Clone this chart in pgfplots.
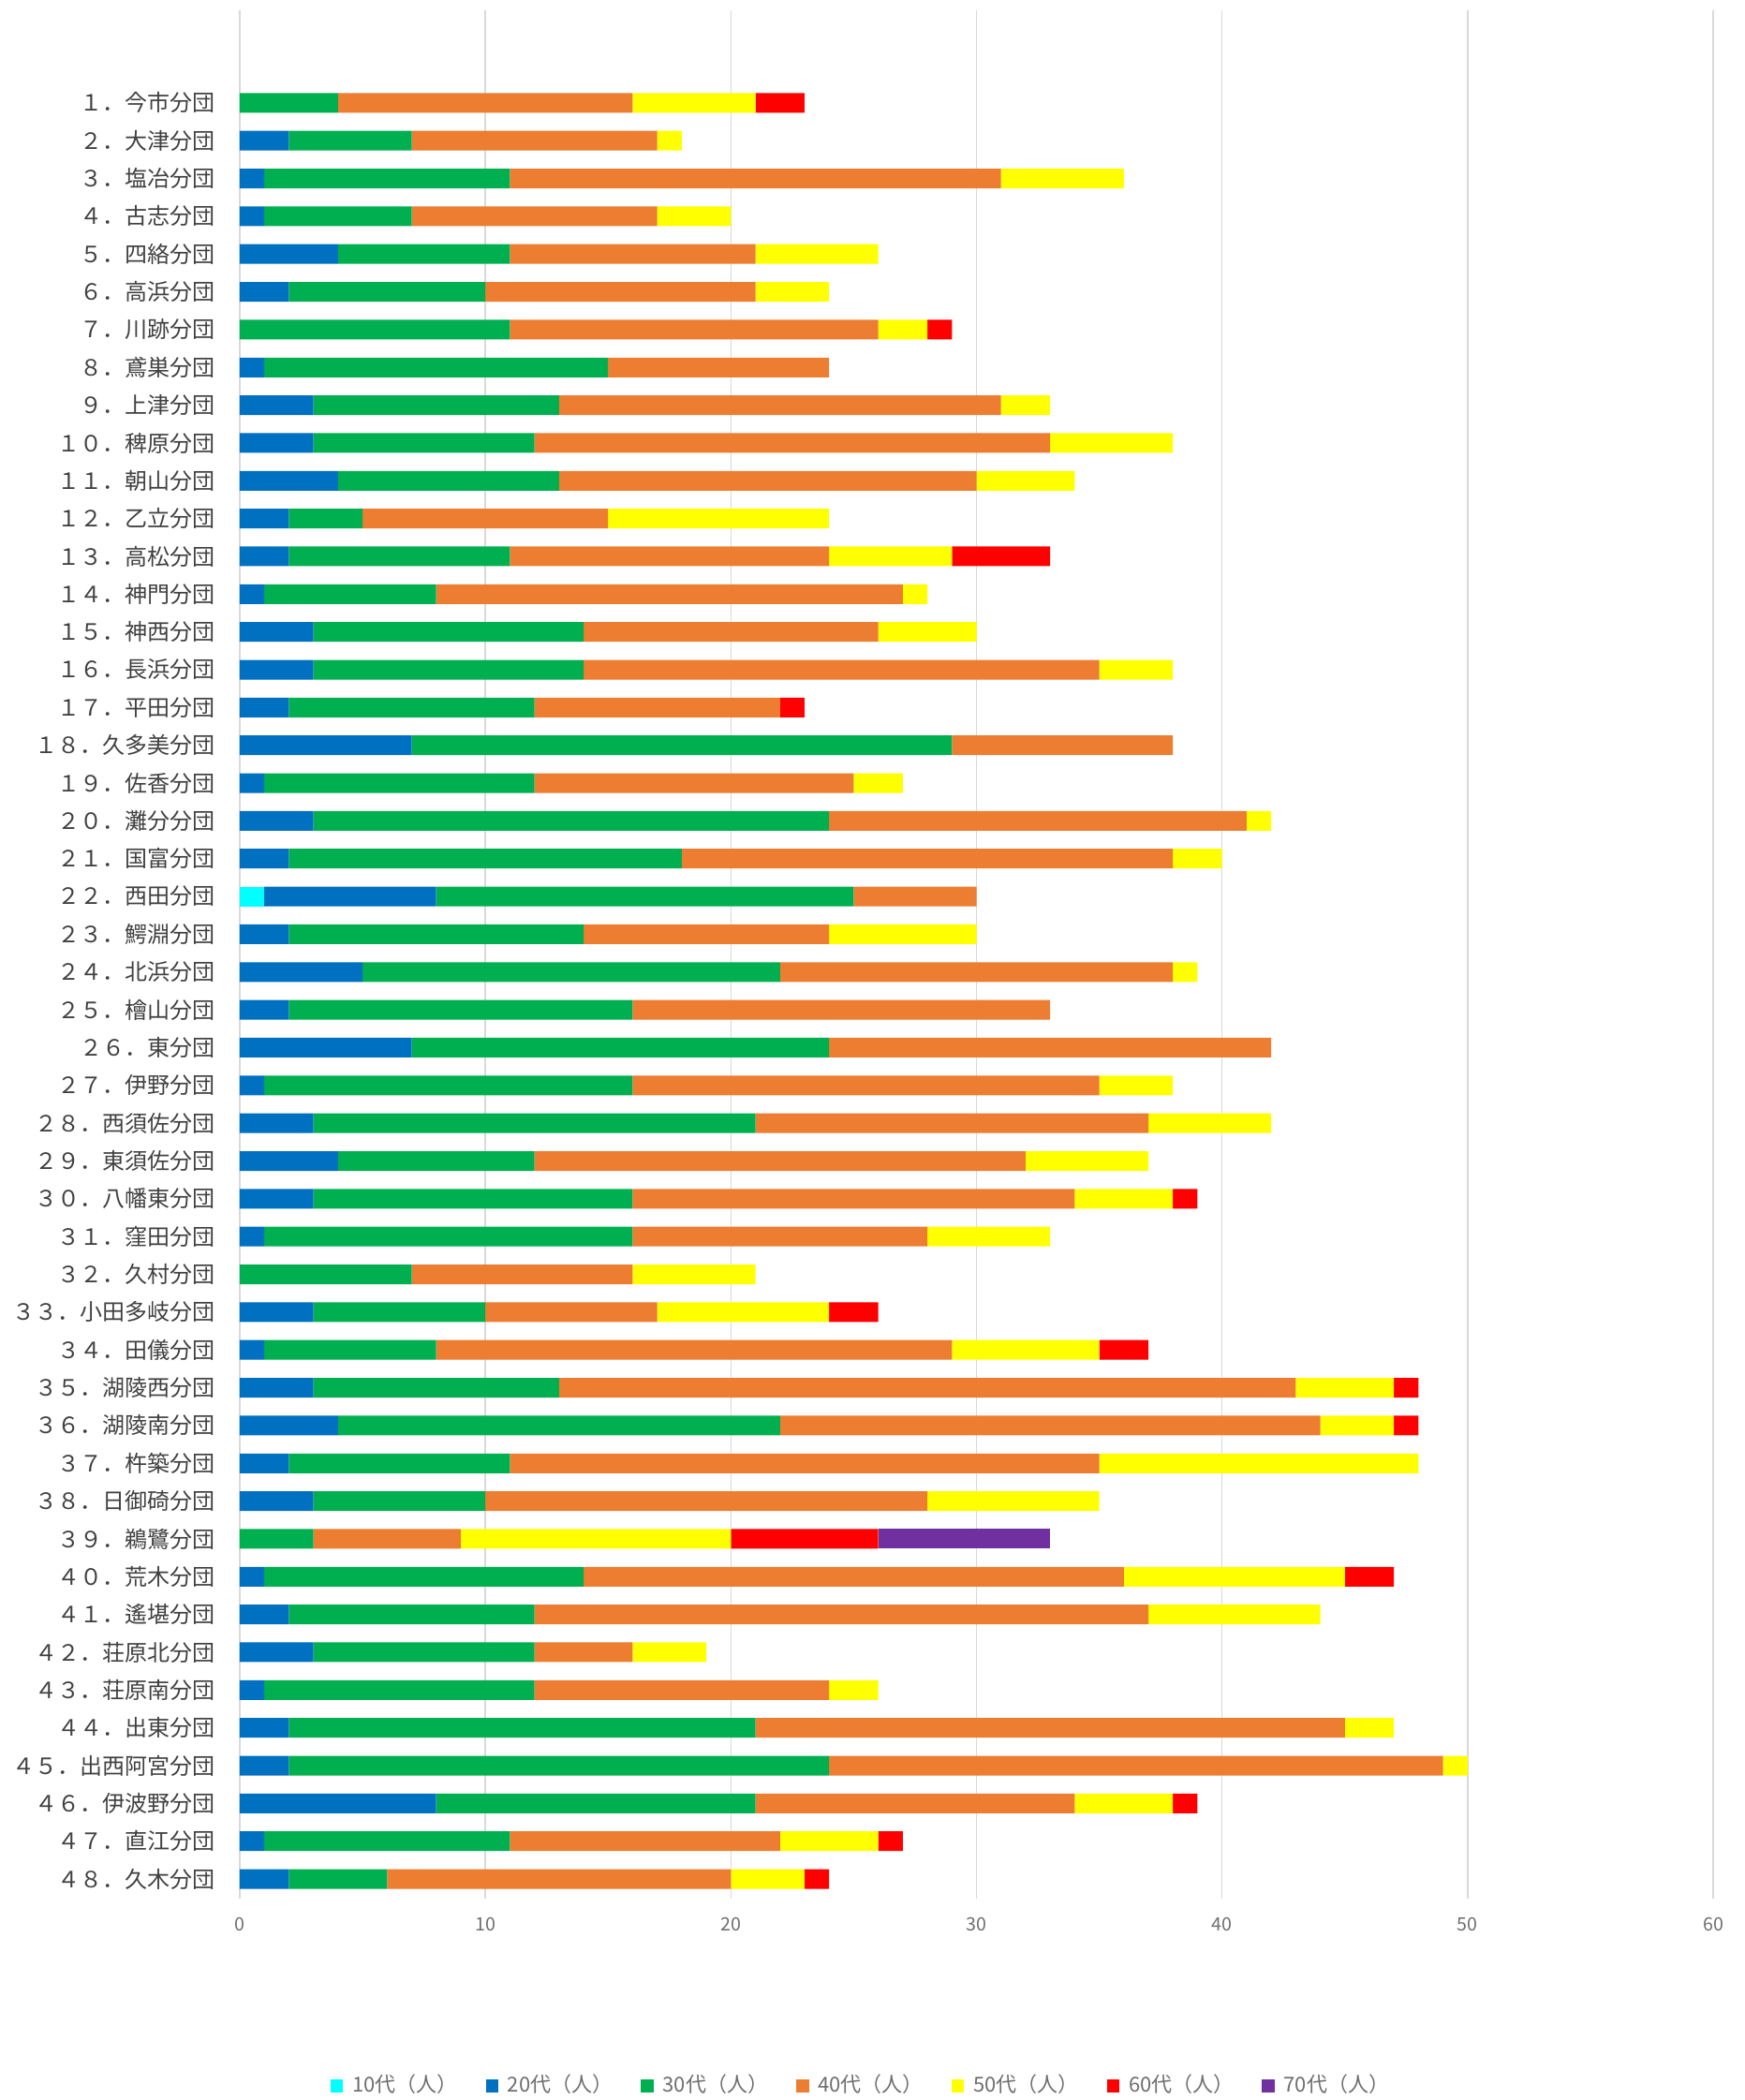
\documentclass[border=0pt]{standalone}
\usepackage{fontspec}
\setmainfont{Noto Sans CJK JP}
\usepackage{pgfplots}
\usepackage{pgfplotstable}
\pgfplotsset{compat=1.18}

\definecolor{c10}{HTML}{00FFFF}
\definecolor{c20}{HTML}{0070C0}
\definecolor{c30}{HTML}{00B050}
\definecolor{c40}{HTML}{ED7D31}
\definecolor{c50}{HTML}{FFFF00}
\definecolor{c60}{HTML}{FF0000}
\definecolor{c70}{HTML}{7030A0}
\definecolor{gridgray}{HTML}{D9D9D9}
\definecolor{labgray}{HTML}{404040}
\definecolor{tickgray}{HTML}{6E6E6E}

% number, then people by age group
\pgfplotstableread{
n  a10 a20 a30 a40 a50 a60 a70
1  0 0 4 12 5 2 0
2  0 2 5 10 1 0 0
3  0 1 10 20 5 0 0
4  0 1 6 10 3 0 0
5  0 4 7 10 5 0 0
6  0 2 8 11 3 0 0
7  0 0 11 15 2 1 0
8  0 1 14 9 0 0 0
9  0 3 10 18 2 0 0
10 0 3 9 21 5 0 0
11 0 4 9 17 4 0 0
12 0 2 3 10 9 0 0
13 0 2 9 13 5 4 0
14 0 1 7 19 1 0 0
15 0 3 11 12 4 0 0
16 0 3 11 21 3 0 0
17 0 2 10 10 0 1 0
18 0 7 22 9 0 0 0
19 0 1 11 13 2 0 0
20 0 3 21 17 1 0 0
21 0 2 16 20 2 0 0
22 1 7 17 5 0 0 0
23 0 2 12 10 6 0 0
24 0 5 17 16 1 0 0
25 0 2 14 17 0 0 0
26 0 7 17 18 0 0 0
27 0 1 15 19 3 0 0
28 0 3 18 16 5 0 0
29 0 4 8 20 5 0 0
30 0 3 13 18 4 1 0
31 0 1 15 12 5 0 0
32 0 0 7 9 5 0 0
33 0 3 7 7 7 2 0
34 0 1 7 21 6 2 0
35 0 3 10 30 4 1 0
36 0 4 18 22 3 1 0
37 0 2 9 24 13 0 0
38 0 3 7 18 7 0 0
39 0 0 3 6 11 6 7
40 0 1 13 22 9 2 0
41 0 2 10 25 7 0 0
42 0 3 9 4 3 0 0
43 0 1 11 12 2 0 0
44 0 2 19 24 2 0 0
45 0 2 22 25 1 0 0
46 0 8 13 13 4 1 0
47 0 1 10 11 4 1 0
48 0 2 4 14 3 1 0
}\dantai

\begin{document}
\begin{tikzpicture}
\begin{axis}[
    name=ax,
    scale only axis,
    width=471.9pt, height=604.8pt,
    xbar stacked,
    bar width=6.3pt,
    y dir=reverse,
    xmin=0, xmax=60,
    ymin=-1.45, ymax=48.52,
    xtick={0,10,...,60},
    ytick={1,...,48},
    yticklabels={１．今市分団,２．大津分団,３．塩冶分団,４．古志分団,５．四絡分団,６．高浜分団,７．川跡分団,８．鳶巣分団,９．上津分団,１０．稗原分団,１１．朝山分団,１２．乙立分団,１３．高松分団,１４．神門分団,１５．神西分団,１６．長浜分団,１７．平田分団,１８．久多美分団,１９．佐香分団,２０．灘分分団,２１．国富分団,２２．西田分団,２３．鰐淵分団,２４．北浜分団,２５．檜山分団,２６．東分団,２７．伊野分団,２８．西須佐分団,２９．東須佐分団,３０．八幡東分団,３１．窪田分団,３２．久村分団,３３．小田多岐分団,３４．田儀分団,３５．湖陵西分団,３６．湖陵南分団,３７．杵築分団,３８．日御碕分団,３９．鵜鷺分団,４０．荒木分団,４１．遙堪分団,４２．荘原北分団,４３．荘原南分団,４４．出東分団,４５．出西阿宮分団,４６．伊波野分団,４７．直江分団,４８．久木分団},
    major tick length=0pt,
    axis line style={draw=none},
    xmajorgrids,
    grid style={gridgray, line width=0.45pt},
    /pgf/number format/assume math mode=true,
    yticklabel style={font=\fontsize{7.2pt}{8pt}\selectfont, text=labgray, inner sep=0pt, xshift=-7.8pt},
    xticklabel style={font=\fontsize{5.9pt}{7pt}\selectfont, text=tickgray, inner sep=0pt, yshift=-6pt},
    every axis plot/.append style={draw=none},
    legend columns=-1,
    legend image code/.code={\fill[#1] (0pt,-2pt) rectangle (4pt,2pt);},
    legend style={at={(rel axis cs:0.423,0)}, anchor=center, yshift=-60pt,
        draw=none, font=\fontsize{6.6pt}{8pt}\selectfont, text=tickgray,
        /tikz/every even column/.append style={column sep=7pt},
        /tikz/every odd column/.append style={column sep=1pt}},
]
\addplot[fill=c10] table[x=a10, y=n] {\dantai};
\addplot[fill=c20] table[x=a20, y=n] {\dantai};
\addplot[fill=c30] table[x=a30, y=n] {\dantai};
\addplot[fill=c40] table[x=a40, y=n] {\dantai};
\addplot[fill=c50] table[x=a50, y=n] {\dantai};
\addplot[fill=c60] table[x=a60, y=n] {\dantai};
\addplot[fill=c70] table[x=a70, y=n] {\dantai};
\legend{10代（人）,20代（人）,30代（人）,40代（人）,50代（人）,60代（人）,70代（人）}
\end{axis}
\pgfresetboundingbox
\path ([shift={(-76.8pt,-64.5pt)}]ax.south west) rectangle ([shift={(10.2pt,3.3pt)}]ax.north east);
\end{tikzpicture}
\end{document}
